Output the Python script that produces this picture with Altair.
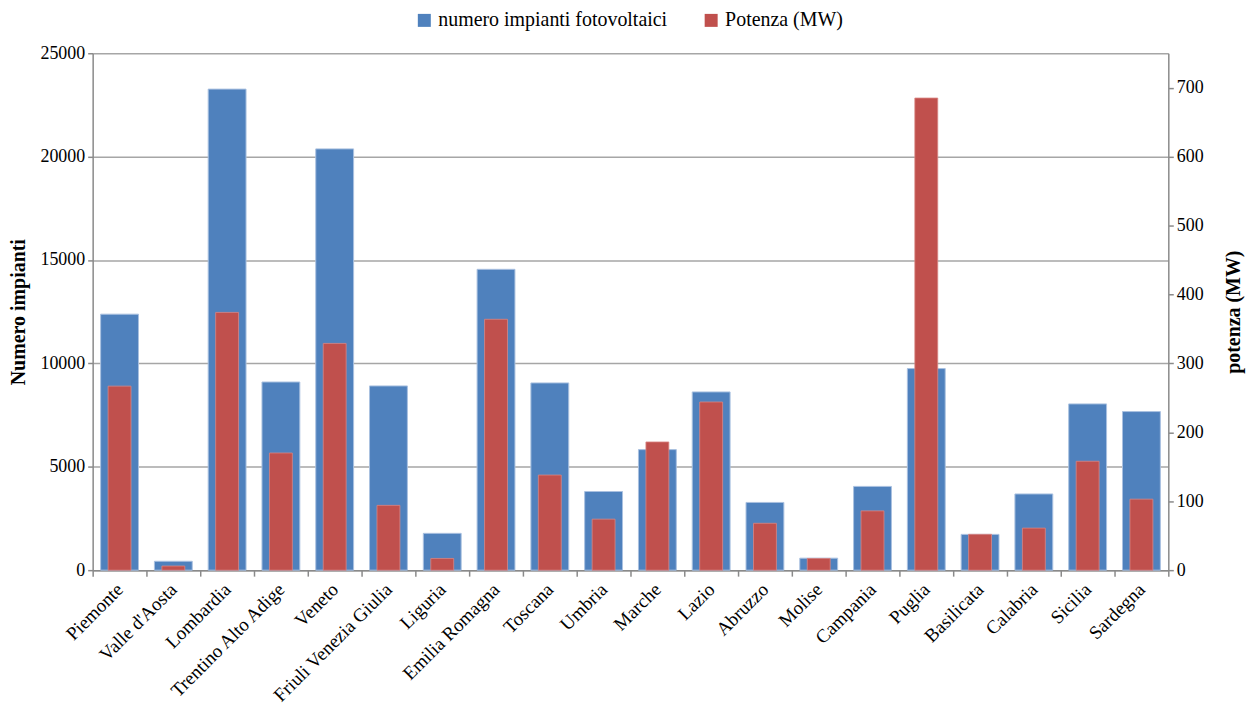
import altair as alt
import pandas as pd

regions = ["Piemonte", "Valle d'Aosta", "Lombardia", "Trentino Alto Adige", "Veneto",
           "Friuli Venezia Giulia", "Liguria", "Emilia Romagna", "Toscana", "Umbria",
           "Marche", "Lazio", "Abruzzo", "Molise", "Campania", "Puglia", "Basilicata",
           "Calabria", "Sicilia", "Sardegna"]
impianti = [12380, 430, 23265, 9100, 20375, 8910, 1780, 14550, 9055, 3805,
            5830, 8620, 3275, 580, 4050, 9750, 1730, 3685, 8040, 7670]
potenza = [267, 6, 374, 170, 329, 94, 17, 364, 138, 74,
           186, 244, 68, 17, 86, 685, 52, 61, 158, 103]
series = ["numero impianti fotovoltaici", "Potenza (MW)"]
colors = ["#4F81BD", "#C0504D"]
left_ticks = [0, 5000, 10000, 15000, 20000, 25000]
right_ticks = [0, 100, 200, 300, 400, 500, 600, 700]

df = pd.DataFrame({"regione": regions, "impianti": impianti, "potenza": potenza})

FONT = "Liberation Serif"
AXC = "#8a8a8a"

x = alt.X("regione:N", sort=regions, title=None,
          scale=alt.Scale(paddingInner=0, paddingOuter=0),
          axis=alt.Axis(labelAngle=-45, labelFontSize=19, labelFont=FONT, labelColor="black",
                        labelAlign="right", labelBaseline="middle",
                        tickBand="extent", tickSize=6, tickColor=AXC, tickWidth=1.5,
                        domainColor=AXC, domainWidth=1.5, labelPadding=10, labelLimit=0))

color_scale = alt.Scale(domain=series, range=colors)

blue = alt.Chart(df).mark_bar(size=38, stroke="#a9c1e0", strokeWidth=1).encode(
    x=x,
    y=alt.Y("impianti:Q", title="Numero impianti",
            scale=alt.Scale(domain=[0, 25000]),
            axis=alt.Axis(values=left_ticks, format="d", grid=True,
                          gridColor="#a6a6a6", gridWidth=1.5,
                          labelFontSize=18, labelFont=FONT, labelColor="black",
                          titleFontSize=20, titleFont=FONT, titleColor="black", titleFontWeight="bold",
                          tickSize=5, tickColor=AXC, tickWidth=1.5, domainColor=AXC, domainWidth=1.5,
                          labelPadding=3, titlePadding=11)),
    color=alt.Color("s1:N", scale=color_scale,
                    legend=alt.Legend(title=None, orient="none", direction="horizontal",
                                      legendX=323, legendY=-43,
                                      symbolType="square", symbolSize=170,
                                      labelFontSize=20, labelFont=FONT, labelColor="black",
                                      labelLimit=0, columnPadding=34, symbolStrokeWidth=0)),
).transform_calculate(s1="'numero impianti fotovoltaici'")

red = alt.Chart(df).mark_bar(size=23, stroke="#d98683", strokeWidth=0.8).encode(
    x=x,
    y=alt.Y("potenza:Q", title="potenza (MW)",
            scale=alt.Scale(domain=[0, 750]),
            axis=alt.Axis(orient="right", values=right_ticks, format="d", grid=False,
                          labelFontSize=18, labelFont=FONT, labelColor="black",
                          titleFontSize=20, titleFont=FONT, titleColor="black", titleFontWeight="bold",
                          titleAngle=270, titleBaseline="bottom",
                          tickSize=5, tickColor=AXC, tickWidth=1.5, domainColor=AXC, domainWidth=1.5,
                          labelPadding=3, titlePadding=40)),
    color=alt.Color("s1:N", scale=color_scale),
).transform_calculate(s1="'Potenza (MW)'")

chart = alt.layer(blue, red).resolve_scale(y="independent").properties(
    width=1080, height=519,
    autosize=alt.AutoSizeParams(type="none"),
    padding={"left": 85, "top": 44, "right": 78, "bottom": 145},
).configure_view(stroke=None).configure_axis(labelFont=FONT, titleFont=FONT)

chart.save("out.html", embed_options={"renderer": "svg", "actions": False})
